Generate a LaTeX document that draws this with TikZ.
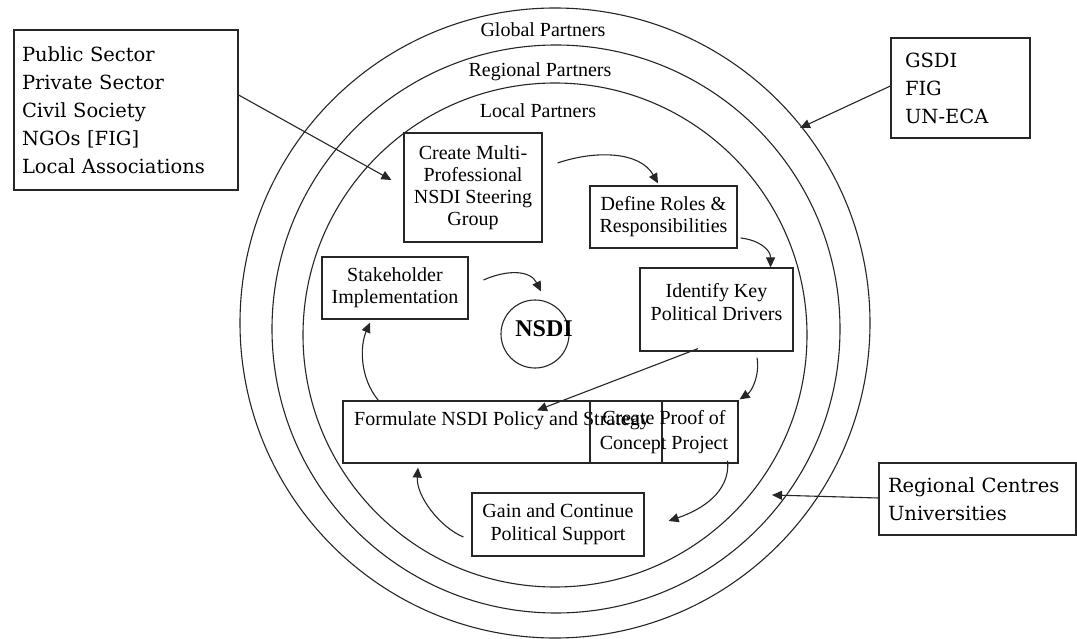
\documentclass[tikz,border=0pt]{standalone}
\usepackage{fontspec}
\setmainfont{Liberation Serif}
\newfontfamily\outerfont{DejaVu Serif}
\usetikzlibrary{arrows.meta,calc}
\begin{document}
\begin{tikzpicture}[x=1pt,y=-1pt,
  ring/.style={draw=black!85, line width=1.1pt},
  box/.style={draw=black!85, line width=1.2pt, inner sep=0pt, align=center, font=\fontsize{20}{22}\selectfont},
  txt/.style={inner sep=0pt, align=center, font=\fontsize{20}{23}\selectfont},
  obox/.style={draw=black!85, line width=1.2pt, inner ysep=0pt, align=left, font=\outerfont\fontsize{19.5}{28}\selectfont},
  lab/.style={inner sep=0pt, font=\fontsize{20}{22}\selectfont},
  arr/.style={line width=1.1pt, draw=black!85, -{Triangle[length=10pt,width=9pt]}},
]
\useasboundingbox (0,0) rectangle (1077,639);
\fill[white] (0,0) rectangle (1077,639);
% rings
\draw[ring] (555,323) circle[radius=315pt];
\draw[ring] (556,329) circle[radius=284pt];
\draw[ring] (555,335) circle[radius=252pt];
\node[lab] (gp) at (543,30) {Global Partners};
\node[lab] (rp) at (540,72) {Regional Partners};
\node[lab] (lp) at (538,111) {Local Partners};
% outer boxes
\node[obox, inner xsep=8pt, text width=208pt, minimum height=160pt] (stake) at (126,110) {Public Sector\\Private Sector\\Civil Society\\NGOs [FIG]\\Local Associations};
\node[obox, inner xsep=14pt, text width=111pt, minimum height=100pt] (glob) at (960.5,88) {GSDI\\FIG\\UN-ECA};
\node[obox, inner xsep=9pt, text width=179pt, minimum height=72pt] (reg) at (977.5,499) {Regional Centres\\Universities};
% inner boxes
\node[box, minimum width=138pt, minimum height=109pt] (create) at (473,187.5) {Create Multi-\\Professional\\NSDI Steering\\Group};
\node[box, minimum width=147pt, minimum height=62pt] (define) at (663.5,217) {Define Roles \&\\Responsibilities};
\node[box, minimum width=153pt, minimum height=83pt] (ident) at (716.5,309.5) {};
\node[txt] (identt) at (716.5,302.5) {Identify Key\\Political Drivers};
\node[box, minimum width=146pt, minimum height=62pt] (stakeimp) at (395,288) {Stakeholder\\Implementation};
\node[draw=black!85, circle, minimum size=68pt, inner sep=0pt, line width=1.1pt] (nsdic) at (535,334) {};
\node[font=\bfseries\fontsize{24}{24}\selectfont, inner sep=0pt] (nsdi) at (544,329) {NSDI};
\node[box, minimum width=319pt, minimum height=62pt] (form) at (502.5,432) {};
\node[txt] (formt) at (502,421) {Formulate NSDI Policy and Strategy};
\node[box, minimum width=148pt, minimum height=62pt, font=\fontsize{20}{25}\selectfont] (proof) at (664,432) {Create Proof of\\Concept Project};
\node[box, minimum width=172pt, minimum height=63pt, font=\fontsize{20}{23}\selectfont] (gain) at (558,524.5) {Gain and Continue\\Political Support};
% free ends on the rings
\coordinate (gtip) at (800,128);
\coordinate (rtip) at (772,495);
% connectors
\draw[arr] ([yshift=15pt]stake.east) -- ([shift={(-12,-7.5)}]create.west);
\draw[arr] ([yshift=2pt]glob.west) -- (gtip);
\draw[arr] ([yshift=1pt]reg.west) -- (rtip);
\draw[arr] ([shift={(15,-24.5)}]create.east) .. controls +(38,-13) and +(-18,-32) .. ([shift={(-5.5,-2)}]define.north);
\draw[arr] ([shift={(3,21)}]define.east) .. controls +(18,2) and +(0,-18) .. ([shift={(-23,0)}]ident.north east);
\draw[arr] ([shift={(40.5,6)}]ident.south) .. controls +(3,18) and +(12,-8) .. ([shift={(1,-1)}]proof.north east);
\draw[arr] ([shift={(-18.5,-3)}]ident.south) -- ([shift={(34.5,10)}]form.north);
\draw[arr] ([shift={(-11,-3)}]proof.south east) .. controls +(3,32) and +(32,-11) .. ([shift={(24,-3.5)}]gain.east);
\draw[arr] ([shift={(-8,12.5)}]gain.west) .. controls +(-24,-10) and +(-2,28) .. ([shift={(-84.5,4)}]form.south);
\draw[arr] ([shift={(36,0)}]form.north west) .. controls +(-19,-23) and +(-10,23) .. ([shift={(-25,3)}]stakeimp.south);
\draw[arr] ([shift={(15,-8)}]stakeimp.east) .. controls +(22,-10) and +(-11,-22) .. ([shift={(6,-8)}]nsdic.north);
\end{tikzpicture}
\end{document}
